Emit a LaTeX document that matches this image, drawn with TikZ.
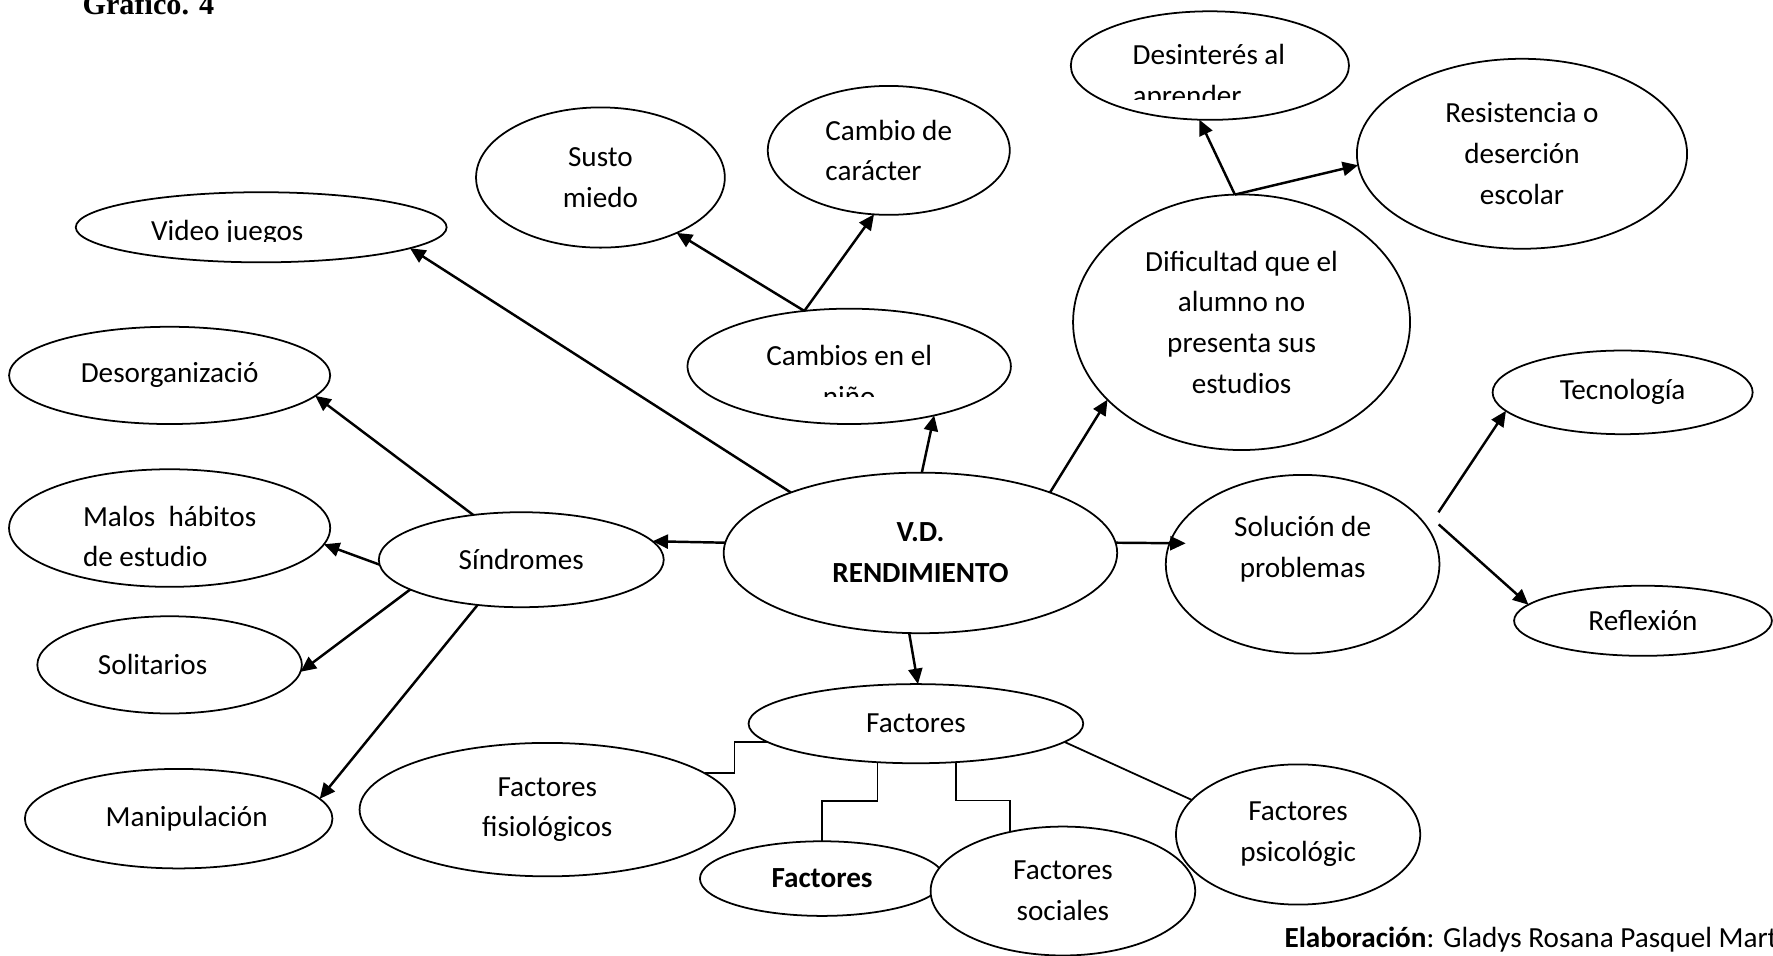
\documentclass[tikz,border=0pt]{standalone}
\usepackage{fontspec}
\setmainfont{Carlito}
\newfontfamily\timesfont{Liberation Serif}
\usetikzlibrary{shapes.geometric,arrows.meta}
\newcommand\cfont{\fontsize{8.3pt}{11.6pt}\selectfont}
\tikzset{
  bubble/.style 2 args={ellipse, draw, line width=0.5pt, inner sep=0pt, outer sep=0pt, align=center, font=\cfont, minimum width=#1*0.22614mm, minimum height=#2*0.22614mm},
  txt/.style={font=\cfont, inner sep=0pt},
  link/.style={line width=0.7pt, -{Triangle[length=4.4pt,width=4pt]}},
  tie/.style={line width=0.5pt}
}
\begin{document}
\begin{tikzpicture}[x=0.11307mm, y=-0.11307mm]
\useasboundingbox (0,0) rectangle (1568,845);
\node[anchor=base west, font=\timesfont\bfseries\fontsize{8.6pt}{10pt}\selectfont] (titulo) at (62,13) {Gráfico. 4};

\node[bubble={164}{31}] (video) at (231,201) {};
\begin{scope}
\clip (60,150) rectangle (400,213.5);
\node[txt, anchor=base] (videotxt) at (201,213) {Video juegos};
\end{scope}
\node[bubble={110}{62}] (susto) at (531,157) {Susto\\miedo};
\node[bubble={107}{57}, align=left] (caracter) at (786,133) {Cambio de\\carácter};
\node[bubble={123}{48}] (desinteres) at (1070,58) {};
\begin{scope}
\clip (990,0) rectangle (1150,88);
\node[txt, anchor=base west] (desinterestxt) at (1001,57) {\begin{tabular}[t]{@{}l@{}}Desinterés al\\aprender\end{tabular}};
\end{scope}
\node[bubble={146}{84}] (resistencia) at (1346,136) {Resistencia o\\deserción\\escolar};
\node[bubble={149}{113}] (dificultad) at (1098,285) {Dificultad que el\\alumno no\\presenta sus\\estudios};
\node[bubble={143}{51}] (cambios) at (751,324) {};
\begin{scope}
\clip (620,280) rectangle (880,351);
\node[txt, anchor=base] (cambiostxt) at (751,323) {\begin{tabular}[t]{@{}c@{}}Cambios en el\\niño\end{tabular}};
\end{scope}
\node[bubble={142}{43}] (desorg) at (150,332) {Desorganizació};
\node[bubble={142}{52}, align=left] (malos) at (150,467) {\rule{0pt}{10.6pt}Malos\ \ hábitos\\de estudio};
\node[bubble={126}{42}] (sindromes) at (461,495) {Síndromes};
\node[bubble={174}{71}, font=\cfont\bfseries] (vd) at (814,489) {V.D.\\RENDIMIENTO};
\node[bubble={121}{79}] (solucion) at (1152,499) {Solución de\\problemas\rule[-10.1pt]{0pt}{0pt}};
\node[bubble={115}{37}] (tecnologia) at (1435,347) {Tecnología};
\node[bubble={114}{31}] (reflexion) at (1453,549) {Reflexión};
\node[bubble={117}{43}] (solitarios) at (150,588) {Solitarios\hspace*{0.34cm}};
\node[bubble={136}{44}] (manipulacion) at (158,724) {\hspace*{0.16cm}Manipulación};
\node[bubble={148}{35}] (factores) at (810,640) {Factores};
\node[bubble={166}{59}] (fisiologicos) at (484,716) {Factores\\fisiológicos};
\node[bubble={108}{33}, font=\cfont\bfseries] (factbold) at (727,777) {Factores};
\node[bubble={117}{57}, fill=white] (sociales) at (940,788) {Factores\\sociales};
\node[bubble={108}{62}] (psicologicos) at (1148,738) {Factores\\psicológic};

\draw[link] (vd.155) -- (video.352);
\draw[link] (vd.177) -- (sindromes.8);
\draw[link] (vd.89) -- (cambios.330);
\draw[link] (vd.25) -- (dificultad.210);
\draw[link, shorten >=-0.16cm] (vd.3) -- (solucion.171);
\draw[link] (vd.262) -- (factores.87);
\draw[link] (cambios.129) -- (susto.324);
\draw[link] (cambios.129) -- (caracter.257);
\draw[link] (dificultad.93) -- (desinteres.259);
\draw[link] (dificultad.93) -- (resistencia.184);
\draw[link] ([xshift=2.45mm]solucion.25) -- (tecnologia.189);
\draw[link] ([xshift=1.36mm]solucion.18) -- (reflexion.172);
\draw[link] (sindromes.137) -- (desorg.352);
\draw[link] (sindromes.182) -- (malos.354);
\draw[link] (sindromes.195) -- (solitarios.357);
\draw[link] (sindromes.226) -- (manipulacion.8);
\draw[tie] (factores.187) -- ++(-29,0) |- (fisiologicos.13);
\draw[tie] (factores.225) -- ++(0,34) -| (factbold.north);
\draw[tie] (factores.316) -- ++(0,34) -| (sociales.132);
\draw[tie] (factores.353) -- (psicologicos.162);

\node[anchor=base west, font=\cfont] (autor) at (1125,838) {\textbf{Elaboración}: Gladys Rosana Pasquel Mart};
\end{tikzpicture}
\end{document}
